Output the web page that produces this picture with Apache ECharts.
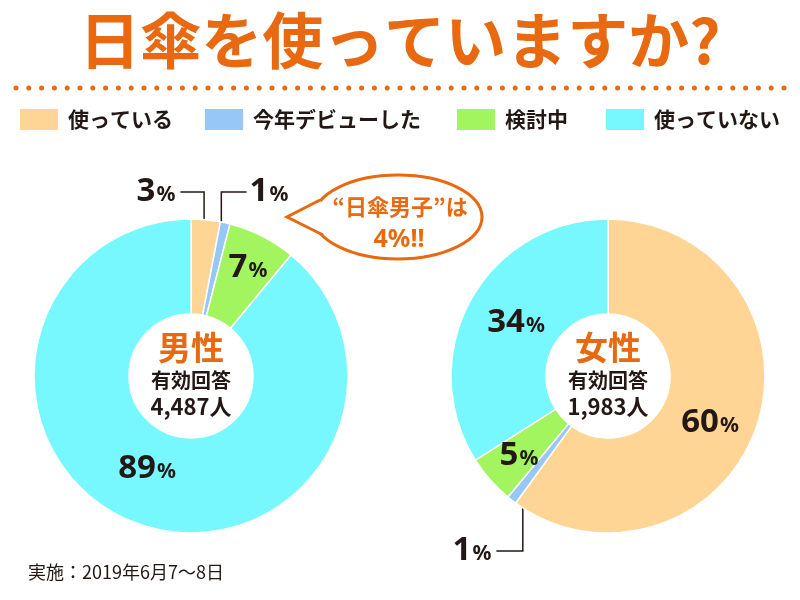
<!DOCTYPE html>
<html><head><meta charset="utf-8">
<script src="https://cdn.jsdelivr.net/npm/echarts@6/dist/echarts.min.js"></script>
<style>html,body{margin:0;padding:0;background:#fff}#c{width:800px;height:600px}</style>
</head><body><div id="c"></div>
<script>
// ---- data ----
const categories = ['使っている', '今年デビューした', '検討中', '使っていない'];
const maleValues = [3, 1, 7, 89];
const femaleValues = [60, 1, 5, 34];
const maleTitle = '男性';
const femaleTitle = '女性';
const maleCount = '4,487人';
const femaleCount = '1,983人';
const titleText = '日傘を使っていますか?';
const bubbleLine1 = '“日傘男子”は';
const bubbleLine2 = '4%!!';
const footText = '実施：2019年6月7～8日';

// ---- style / layout ----
const colors = ['#FED594', '#96C7F5', '#A3F55F', '#77F8FE'];
const orange = '#E8690F';
const ink = '#231815';
const CJK = '"Noto Sans CJK JP", "Noto Sans", sans-serif';
const NUM = '"Noto Sans", "Noto Sans CJK JP", sans-serif';
const R_OUT = 157, R_IN = 62;
const maleCenter = [191, 376];
const femaleCenter = [608, 376];
// label placement (annotation layout)
const maleLabelPos = [
  {x: 156, y: 192, side: 'left'},
  {x: 269, y: 192, side: 'right'},
  {x: 248, y: 268},
  {x: 147, y: 469}
];
const femaleLabelPos = [
  {x: 710, y: 423},
  {x: 472, y: 551, side: 'left'},
  {x: 519, y: 456},
  {x: 516, y: 323}
];

function buildData(values, pos) {
  return values.map((v, i) => {
    const d = {value: v, name: categories[i], itemStyle: {color: colors[i]}};
    if (pos[i].side) {
      d.label = {position: 'outside'};
      d.labelLine = {show: true};
    }
    return d;
  });
}

function makeLayout(pos, center) {
  return function (params) {
    const p = pos[params.dataIndex];
    const out = {x: p.x, y: p.y, align: 'center', verticalAlign: 'middle'};
    if (p.side && params.labelLinePoints) {
      const a = params.labelLinePoints[0];
      const dx = a[0] - center[0], dy = a[1] - center[1];
      const len = Math.sqrt(dx * dx + dy * dy);
      const k = (len - 18) / len;
      const ix = center[0] + dx * k, iy = center[1] + dy * k;
      const hw = params.labelRect.width / 2;
      const ex = p.side === 'left' ? p.x + hw + 5 : p.x - hw - 3;
      out.labelLinePoints = [[ix, iy], [ix, p.y], [ex, p.y]];
    }
    return out;
  };
}

function pieSeries(values, pos, center) {
  return {
    type: 'pie',
    center: center,
    radius: [R_IN, R_OUT],
    startAngle: 90,
    clockwise: true,
    avoidLabelOverlap: false,
    silent: true,
    itemStyle: {borderColor: '#fff', borderWidth: 1.5},
    label: {
      show: true,
      position: 'inside',
      formatter: '{n|{c}}{p|%}',
      rich: {
        n: {fontFamily: NUM, fontWeight: 'bold', fontSize: 33, color: ink},
        p: {fontFamily: NUM, fontWeight: 'bold', fontSize: 21, color: ink, padding: [6, 0, 0, 1]}
      }
    },
    labelLine: {show: false, lineStyle: {color: ink, width: 1.5}},
    labelLayout: makeLayout(pos, center),
    emphasis: {disabled: true},
    data: buildData(values, pos)
  };
}

function centerTitle(title, count, center) {
  return {
    text: '{a|' + title + '}\n{b|有効回答}\n{c|' + count + '}',
    left: center[0], top: 328, textAlign: 'center', padding: 0,
    textStyle: {
      rich: {
        a: {fontFamily: CJK, fontWeight: 'bold', fontSize: 33, color: orange, lineHeight: 38, align: 'center'},
        b: {fontFamily: CJK, fontWeight: 'bold', fontSize: 20, color: ink, lineHeight: 28, align: 'center'},
        c: {fontFamily: CJK, fontWeight: 'bold', fontSize: 22, color: ink, lineHeight: 26, align: 'center'}
      }
    }
  };
}

const legendLefts = [18, 203, 455, 604];
const legends = categories.map((c, i) => ({
  data: [c], left: legendLefts[i], top: 107, padding: 0,
  icon: 'rect', itemWidth: 40, itemHeight: 23, selectedMode: false,
  textStyle: {fontFamily: CJK, fontWeight: 'bold', fontSize: 21, color: ink, padding: [0, 0, 0, 4]}
}));

const chart = echarts.init(document.getElementById('c'), null, {renderer: 'canvas'});
chart.setOption({
  animation: false,
  backgroundColor: '#fff',
  title: [
    {text: titleText, left: 'center', top: 10, padding: 0,
     textStyle: {fontFamily: CJK, fontWeight: 'bold', fontSize: 61, color: orange}},
    centerTitle(maleTitle, maleCount, maleCenter),
    centerTitle(femaleTitle, femaleCount, femaleCenter),
    {text: footText, left: 28, top: 563, padding: 0,
     textStyle: {fontFamily: CJK, fontWeight: 'normal', fontSize: 18, color: ink}}
  ],
  legend: legends,
  graphic: [
    {type: 'line', shape: {x1: 16, y1: 88, x2: 785, y2: 88}, z: 10,
     style: {stroke: orange, lineWidth: 5, lineCap: 'round', lineDash: [0, 12.8]}},
    {type: 'ellipse', shape: {cx: 398, cy: 217, rx: 84, ry: 42}, z: 10,
     style: {fill: '#fff', stroke: orange, lineWidth: 3}},
    {type: 'polygon', shape: {points: [[289, 217], [321, 201], [323, 234]]}, z: 11,
     style: {fill: '#fff', stroke: null}},
    {type: 'polyline', shape: {points: [[320, 200], [287, 217], [323, 235]]}, z: 12,
     style: {stroke: orange, lineWidth: 3, fill: null, lineJoin: 'miter'}},
    {type: 'text', x: 400, y: 207, z: 13,
     style: {text: bubbleLine1, fontFamily: CJK, fontWeight: 'bold', fontSize: 22, fill: orange, align: 'center', verticalAlign: 'middle'}},
    {type: 'text', x: 399, y: 240, z: 13,
     style: {text: bubbleLine2, fontFamily: NUM, fontWeight: 'bold', fontSize: 25, fill: orange, align: 'center', verticalAlign: 'middle'}}
  ],
  series: [
    pieSeries(maleValues, maleLabelPos, maleCenter),
    pieSeries(femaleValues, femaleLabelPos, femaleCenter)
  ]
});
</script></body></html>
